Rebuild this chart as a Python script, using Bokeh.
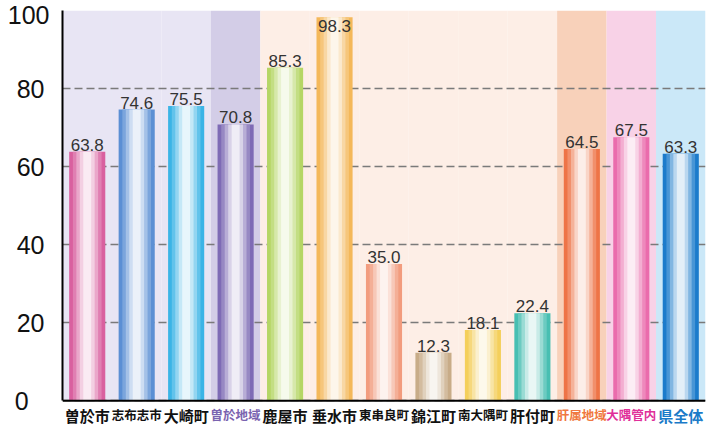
from bokeh.plotting import figure
from bokeh.models import ColumnDataSource, LabelSet, FactorRange, Range1d, FixedTicker, Span
from bokeh.core.properties import value
from bokeh.embed import file_html
from bokeh.resources import INLINE

categories = ["曽於市", "志布志市", "大崎町", "曽於地域", "鹿屋市", "垂水市", "東串良町",
              "錦江町", "南大隅町", "肝付町", "肝属地域", "大隅管内", "県全体"]
values = [63.8, 74.6, 75.5, 70.8, 85.3, 98.3, 35.0, 12.3, 18.1, 22.4, 64.5, 67.5, 63.3]
bar_colors = ["#D9609F", "#5B8FD4", "#3BB4E6", "#7E6BB5", "#B5D665", "#F4B85A", "#F29C7E",
              "#C8AC88", "#F4CF5C", "#48BFB2", "#EE7447", "#EA6CAC", "#1B7BCB"]
band_colors = ["#E8E5F4", "#E8E5F4", "#E8E5F4", "#D3CDE7", "#FDEEE6", "#FDEEE6", "#FDEEE6",
               "#FDEEE6", "#FDEEE6", "#FDEEE6", "#F8D1BA", "#F8D2E7", "#CBE8F8"]
label_colors = ["#111111", "#111111", "#111111", "#7A63B0", "#111111", "#111111", "#111111",
                "#111111", "#111111", "#111111", "#F07840", "#E0309A", "#1A7AC8"]
y_ticks = [0, 20, 40, 60, 80, 100]
y_tick_labels = ["0\u2007\u2008", "20\u2009", "40\u2009", "60\u2009", "80\u2009", "100"]


def blend(hex_color, f):
    r = int(hex_color[1:3], 16)
    g = int(hex_color[3:5], 16)
    b = int(hex_color[5:7], 16)
    r = int(r + (255 - r) * f)
    g = int(g + (255 - g) * f)
    b = int(b + (255 - b) * f)
    return "#%02x%02x%02x" % (r, g, b)


source = ColumnDataSource(dict(
    cat=categories,
    val=values,
    band_color=band_colors,
    label_color=label_colors,
    label_size=["15px" if len(c) <= 3 else "12.5px" for c in categories],
))

p = figure(width=714, height=429, x_range=FactorRange(factors=categories, range_padding=0),
           y_range=Range1d(-7.4, 100), output_backend="svg", toolbar_location=None,
           min_border_left=62, min_border_right=9, min_border_top=10, min_border_bottom=0)
p.outline_line_color = None
p.background_fill_color = "white"
p.border_fill_color = "white"

# background bands
bands = p.vbar(x="cat", top=100, bottom=0, width=1.0, source=source,
               fill_color="band_color", line_color=None)
bands.level = "image"

# bars with highlight gradient
layers = [(0.73, 0.0), (0.58, 0.2), (0.44, 0.45), (0.30, 0.7), (0.16, 0.88)]
for w, f in layers:
    src = ColumnDataSource(dict(cat=categories, val=values,
                                col=[blend(c, f) for c in bar_colors]))
    p.vbar(x="cat", top="val", bottom=0, width=w, source=src,
           fill_color="col", line_color=None)

# grid
p.xgrid.grid_line_color = None
p.ygrid.ticker = FixedTicker(ticks=y_ticks)
p.ygrid.grid_line_color = "#7a7a7a"
p.ygrid.grid_line_dash = "8 4"
p.ygrid.grid_line_width = 1.3

# axes
p.yaxis.ticker = FixedTicker(ticks=y_ticks)
p.yaxis.bounds = (0, 100)
p.yaxis.major_label_overrides = {t: s for t, s in zip(y_ticks, y_tick_labels)}
p.yaxis.axis_line_color = "black"
p.yaxis.axis_line_width = 2
p.yaxis.major_tick_line_color = None
p.yaxis.minor_tick_line_color = None
p.yaxis.major_label_text_font = "Liberation Sans"
p.yaxis.major_label_text_font_size = "25px"
p.yaxis.major_label_text_color = "#111111"
p.yaxis.major_label_standoff = 7

p.xaxis.visible = False
p.add_layout(Span(location=0, dimension="width", line_color="black", line_width=2))

# value labels
out_idx = [i for i, v in enumerate(values) if v <= 95]
in_idx = [i for i, v in enumerate(values) if v > 95]
out_src = ColumnDataSource(dict(cat=[categories[i] for i in out_idx],
                                val=[values[i] for i in out_idx],
                                txt=["%.1f" % values[i] for i in out_idx]))
in_src = ColumnDataSource(dict(cat=[categories[i] for i in in_idx],
                               val=[values[i] for i in in_idx],
                               txt=["%.1f" % values[i] for i in in_idx]))
p.add_layout(LabelSet(x="cat", y="val", text="txt", source=out_src, y_offset=1,
                      text_align="center", text_baseline="bottom",
                      text_font=value("Liberation Sans"), text_font_size="17px",
                      text_color="#333333"))
p.add_layout(LabelSet(x="cat", y="val", text="txt", source=in_src, y_offset=-3,
                      text_align="center", text_baseline="top",
                      text_font=value("Liberation Sans"), text_font_size="17px",
                      text_color="#333333"))

# category labels
p.add_layout(LabelSet(x="cat", y=0, text="cat", source=source, y_offset=-4,
                      text_align="center", text_baseline="top",
                      text_font=value("Noto Sans CJK JP"), text_font_size="label_size",
                      text_font_style="bold", text_color="label_color"))

open("out.html", "w").write(file_html(p, INLINE))
